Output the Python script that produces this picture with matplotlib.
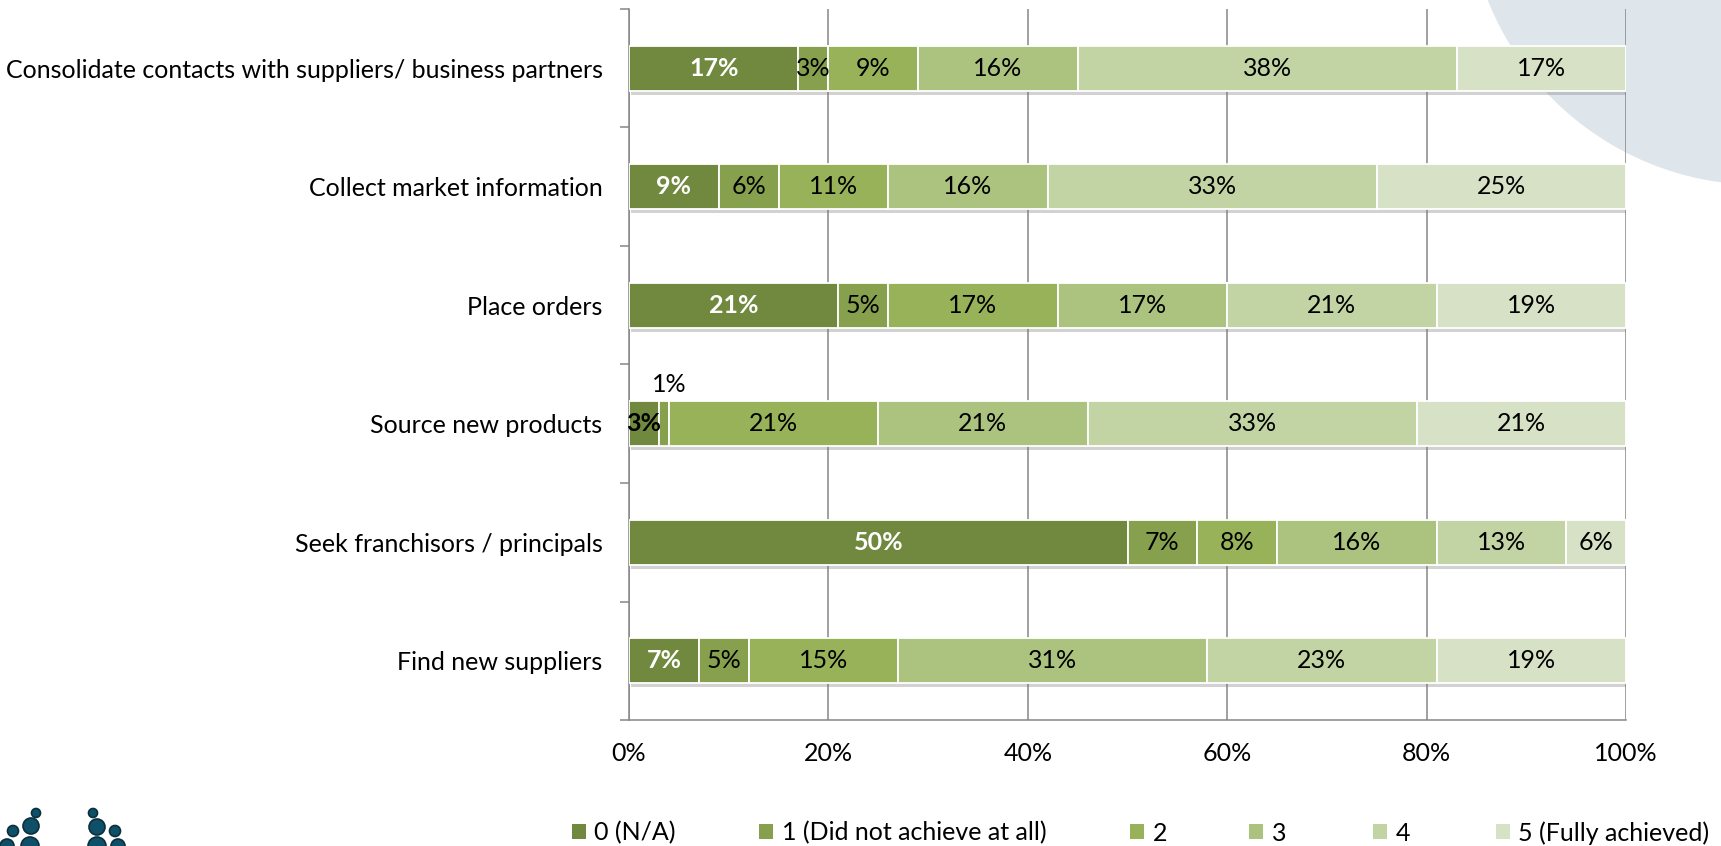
import numpy as np
import matplotlib.pyplot as plt
import matplotlib.patheffects as pe
from matplotlib.patches import Patch, Ellipse, Circle
from matplotlib.transforms import IdentityTransform

plt.rcParams['font.family'] = ['Lato', 'DejaVu Sans']

# survey items, top to bottom
categories = [
    'Consolidate contacts with suppliers/ business partners',
    'Collect market information',
    'Place orders',
    'Source new products',
    'Seek franchisors / principals',
    'Find new suppliers',
]
levels = ['0 (N/A)', '1 (Did not achieve at all)', '2', '3', '4', '5 (Fully achieved)']

# share of respondents (%) per rating
na = [17, 9, 21, 3, 50, 7]
not_at_all = [3, 6, 5, 1, 7, 5]
lvl2 = [9, 11, 17, 21, 8, 15]
lvl3 = [16, 16, 17, 21, 16, 31]
lvl4 = [38, 33, 21, 33, 13, 23]
fully = [17, 25, 19, 21, 6, 19]
series = [na, not_at_all, lvl2, lvl3, lvl4, fully]

colors = ['#71893F', '#86A04E', '#98B25A', '#ABC37E', '#C2D3A4', '#D6E1C5']
grid_col = '#868686'
fs = 18

# logo dots, pixel coords (x, y from top, radius)
logo_dots = [(36, 813, 4.5), (31, 826, 8), (13, 831, 5.5), (30, 846, 9), (7, 846, 7),
             (93, 813, 4.5), (97, 827, 8), (115, 831, 5.5), (97, 846, 9), (118, 846, 7)]
# left edge of each legend key, pixels
legend_x = [572, 759, 1130, 1249, 1373, 1496]

W, H = 1721, 846
fig = plt.figure(figsize=(W / 100, H / 100), dpi=100)
fig.patch.set_facecolor('white')

# pale backdrop disc, top right
fig.add_artist(Ellipse((1760 / W, 1 + 108 / H), 2 * 293 / W, 2 * 293 / H,
                       transform=fig.transFigure, color='#DEE6EB', zorder=-1, lw=0))
for x, yy, r in logo_dots:
    fig.add_artist(Circle((x, H - yy), r, transform=IdentityTransform(),
                          facecolor='#0E5068', edgecolor='#0A2F3D', lw=1.2))

ax = fig.add_axes([629 / W, 1 - 720 / H, (1626 - 629) / W, (720 - 9) / H])
ax.set_facecolor('none')

y = np.arange(len(categories))
shadow = [pe.SimplePatchShadow(offset=(1.5, -3), shadow_rgbFace='#7f7f7f', alpha=0.35),
          pe.Normal()]
left = np.zeros(len(categories))
for i, (vals, c) in enumerate(zip(series, colors)):
    vals = np.array(vals, dtype=float)
    ax.barh(y, vals, left=left, height=0.38, color=c, edgecolor='white',
            linewidth=1.3, path_effects=shadow, zorder=3)
    for j, v in enumerate(vals):
        xc = left[j] + v / 2
        if v <= 1:
            ax.annotate(f'{v:.0f}%', (xc, y[j]), xytext=(4, 28), textcoords='offset points',
                        ha='center', va='center', fontsize=fs, color='black', zorder=5)
            continue
        if i == 0:
            col = 'white' if v >= 5 else 'black'
            ax.text(xc, y[j], f'{v:.0f}%', ha='center', va='center', fontsize=fs,
                    fontweight='bold', color=col, zorder=5)
        else:
            ax.text(xc, y[j], f'{v:.0f}%', ha='center', va='center', fontsize=fs,
                    color='black', zorder=5)
    left += vals

ax.set_xlim(0, 100)
ax.set_ylim(len(categories) - 0.5, -0.5)
ax.set_xticks(range(0, 101, 20))
ax.set_xticklabels([f'{v}%' for v in range(0, 101, 20)])
ax.set_yticks(y)
ax.set_yticklabels(categories)
ax.set_yticks(np.arange(-0.5, len(categories), 1), minor=True)
ax.tick_params(axis='x', length=0, pad=16, labelsize=fs)
ax.tick_params(axis='y', which='major', length=0, pad=19, labelsize=fs)
ax.tick_params(axis='y', which='minor', length=6.5, width=1.1, color=grid_col)
ax.xaxis.grid(True, color=grid_col, linewidth=1.1)
ax.set_axisbelow(True)
for s in ['top', 'right']:
    ax.spines[s].set_visible(False)
for s in ['left', 'bottom']:
    ax.spines[s].set_color(grid_col)
    ax.spines[s].set_linewidth(1.1)

# one legend per key so each sits at its own spot along the bottom
for lx, c, lab in zip(legend_x, colors, levels):
    fig.legend([Patch(facecolor=c, edgecolor='none')], [lab], loc='center left',
               bbox_to_anchor=(lx / W, 1 - 833 / H), frameon=False, fontsize=fs,
               handlelength=0.55, handleheight=0.55, handletextpad=0.35,
               borderpad=0, borderaxespad=0)

fig.savefig('out.png', dpi=100, facecolor='white')
